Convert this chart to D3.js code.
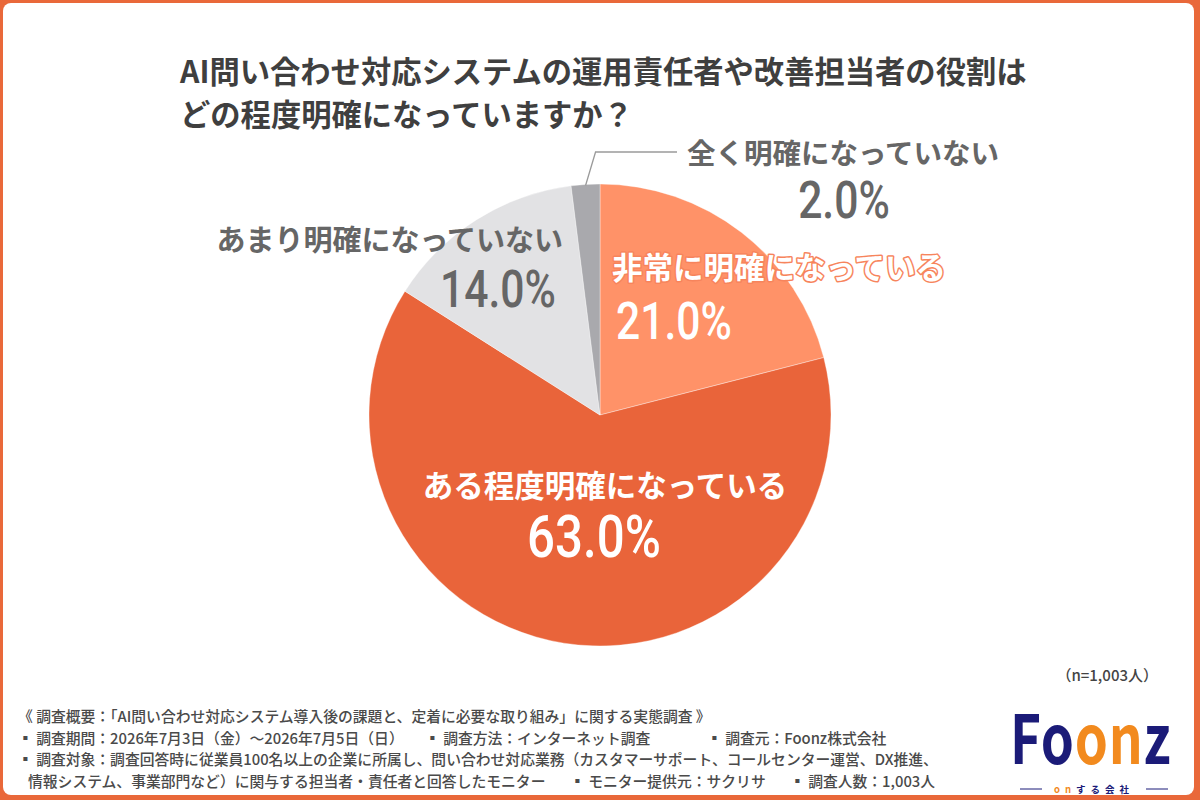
<!DOCTYPE html>
<html><head><meta charset="utf-8">
<script src="https://cdn.jsdelivr.net/npm/d3@7"></script>
<style>
html,body{margin:0;padding:0;background:#fff;}
text{font-family:"Noto Sans CJK JP","Noto Sans",sans-serif;}
.pct{font-family:"Roboto","DejaVu Sans",sans-serif;font-weight:500;}
</style></head>
<body>
<svg id="chart" width="1200" height="800"></svg>
<script>
const titleLines = ["AI問い合わせ対応システムの運用責任者や改善担当者の役割は", "どの程度明確になっていますか？"];
const categories = ["非常に明確になっている", "ある程度明確になっている", "あまり明確になっていない", "全く明確になっていない"];
const values = [21.0, 63.0, 14.0, 2.0];
const colors = ["#FF9268", "#E9643A", "#E2E2E4", "#A9A9AD"];
const sampleNote = "（n=1,003人）";
const footerLines = [
  [["《 調査概要：「AI問い合わせ対応システム導入後の課題と、定着に必要な取り組み」に関する実態調査 》", 18]],
  [["▪ 調査期間：2026年7月3日（金）～2026年7月5日（日）", 18], ["▪ 調査方法：インターネット調査", 425], ["▪ 調査元：Foonz株式会社", 707]],
  [["▪ 調査対象：調査回答時に従業員100名以上の企業に所属し、問い合わせ対応業務（カスタマーサポート、コールセンター運営、DX推進、", 18]],
  [["情報システム、事業部門など）に関与する担当者・責任者と回答したモニター", 28], ["▪ モニター提供元：サクリサ", 570], ["▪ 調査人数：1,003人", 790]]
];

const svg = d3.select("#chart");
// frame
svg.append("rect").attr("x",0).attr("y",0).attr("width",1200).attr("height",800).attr("fill","#E9683A");
svg.append("rect").attr("x",3).attr("y",3).attr("width",1191).attr("height",792).attr("rx",8).attr("fill","#FFFFFF");

// title
svg.append("g").selectAll("text").data(titleLines).join("text")
  .attr("x",180).attr("y",(d,i)=>83+i*43)
  .attr("font-size",30.3).attr("font-weight",700).attr("fill","#3F3F3F")
  .text(d=>d);

// pie
const cx = 600, cy = 415, R = 231;
const pie = d3.pie().sort(null).value(d=>d);
const arc = d3.arc().innerRadius(0).outerRadius(R);
const arcs = pie(values);
const g = svg.append("g").attr("transform",`translate(${cx},${cy})`);
g.selectAll("path").data(arcs).join("path")
  .attr("d",arc).attr("fill",(d,i)=>colors[i])
  .attr("stroke","#ffffff").attr("stroke-width",0.6).attr("stroke-opacity",0.6);

// leader line for smallest slice
const lead = d3.line();
const a3 = arcs[3];
const mid3 = (a3.startAngle+a3.endAngle)/2;
const p0 = [cx + Math.sin(mid3)*(R-1), cy - Math.cos(mid3)*(R-1)];
svg.append("path").attr("d", lead([p0, [p0[0]+10, 152], [677, 152]]))
  .attr("fill","none").attr("stroke","#9a9a9a").attr("stroke-width",1.3);

function pctText(x, y, txt, size, fill, anchor){
  const gg = svg.append("g").attr("transform",`translate(${x},${y}) scale(0.82,1)`);
  gg.append("text").attr("class","pct").attr("text-anchor",anchor||"middle")
    .attr("font-size",size).attr("fill",fill).text(txt);
}
const fmt = v => v.toFixed(1) + "%";

// label: 全く明確になっていない
svg.append("text").attr("x",843).attr("y",164).attr("text-anchor","middle")
  .attr("font-size",28.5).attr("font-weight",700).attr("fill","#666666").text(categories[3]);
pctText(844, 218, fmt(values[3]), 52, "#666666");

// label: あまり明確になっていない
svg.append("text").attr("x",563).attr("y",251).attr("text-anchor","end")
  .attr("font-size",29).attr("font-weight",700).attr("fill","#666666").text(categories[2]);
pctText(556, 307, fmt(values[2]), 52, "#666666", "end");

// label: 非常に明確になっている (white with orange outline)
svg.append("text").attr("x",779).attr("y",279).attr("text-anchor","middle")
  .attr("font-size",30.5).attr("font-weight",700).attr("fill","#FFFFFF")
  .attr("stroke","#F7845C").attr("stroke-width",3).attr("paint-order","stroke")
  .attr("stroke-linejoin","round").text(categories[0]);
pctText(674, 339, fmt(values[0]), 52, "#FFFFFF");

// label: ある程度明確になっている
svg.append("text").attr("x",605).attr("y",497).attr("text-anchor","middle")
  .attr("font-size",30.5).attr("font-weight",700).attr("fill","#FFFFFF").text(categories[1]);
pctText(594, 557, fmt(values[1]), 60, "#FFFFFF");

// n note
svg.append("text").attr("x",1158).attr("y",681).attr("text-anchor","end")
  .attr("font-size",15).attr("font-weight",500).attr("fill","#444").text(sampleNote);

// footer
footerLines.forEach((line,i)=>{
  line.forEach(([t,x])=>{
    svg.append("text").attr("x",x).attr("y",722+i*21.5)
      .attr("font-size",14.8).attr("font-weight",500).attr("fill","#4a4a4a").text(t);
  });
});

// logo
const logoG = svg.append("g").attr("transform","translate(1010,764) scale(0.78,1)");
const logo = logoG.append("text").attr("x",0).attr("y",0)
  .attr("font-family","Lato, 'DejaVu Sans', sans-serif").attr("font-size",68).attr("font-weight",700)
  .attr("letter-spacing",1);
logo.append("tspan").attr("fill","#1B1B78").text("Fo");
logo.append("tspan").attr("fill","#F28A1E").text("on");
logo.append("tspan").attr("fill","#1B1B78").text("z");
const sub = svg.append("g");
sub.append("line").attr("x1",1020).attr("x2",1042).attr("y1",789).attr("y2",789).attr("stroke","#1B1B78").attr("stroke-width",1);
sub.append("line").attr("x1",1146).attr("x2",1168).attr("y1",789).attr("y2",789).attr("stroke","#1B1B78").attr("stroke-width",1);
const st = sub.append("text").attr("x",1094).attr("y",793).attr("text-anchor","middle")
  .attr("font-size",9.5).attr("font-weight",700).attr("letter-spacing",5);
st.append("tspan").attr("fill","#F28A1E").text("on");
st.append("tspan").attr("fill","#1B1B78").text("する会社");
</script>
</body></html>
